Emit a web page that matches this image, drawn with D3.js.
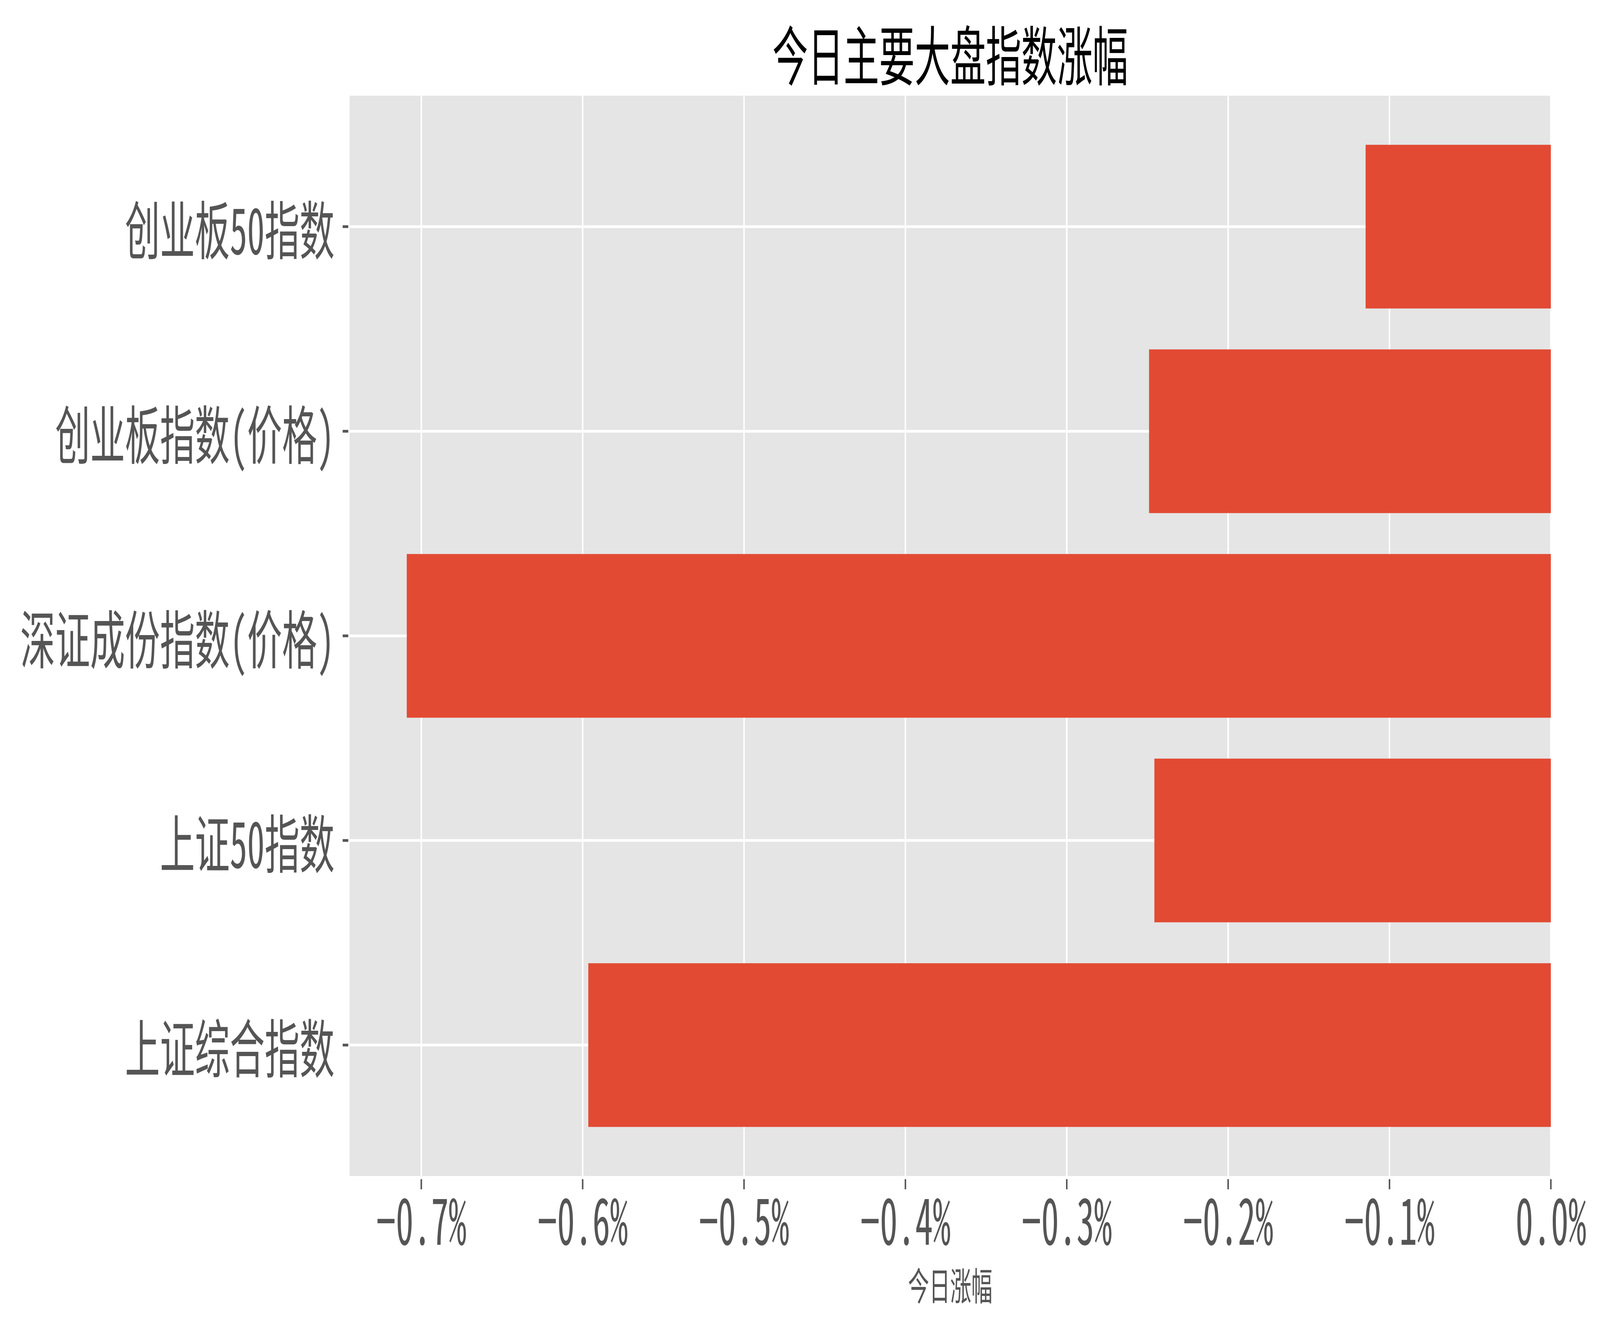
<!DOCTYPE html>
<html>
<head>
<meta charset="utf-8">
<script src="https://cdn.jsdelivr.net/npm/d3@7"></script>
<style>
  html, body { margin: 0; padding: 0; background: #fff; overflow: hidden; }
  #chart { width: 100vw; height: 100vh; }
  svg { display: block; width: 100%; height: 100%; }
  text { font-family: "Noto Sans Mono CJK SC", "Noto Sans CJK SC", sans-serif; }
</style>
</head>
<body>
<div id="chart"></div>
<script>
// index names, top to bottom
const indexNames = ["创业板50指数", "创业板指数(价格)", "深证成份指数(价格)", "上证50指数", "上证综合指数"];
// today's change in percent
const changes = [-0.1148, -0.249, -0.709, -0.2457, -0.5965];
const xTicks = [-0.7, -0.6, -0.5, -0.4, -0.3, -0.2, -0.1, 0.0];
const titleText = "今日主要大盘指数涨幅";
const xLabelText = "今日涨幅";

const W = 7424, H = 3395;
const margin = { top: 245, right: 228, bottom: 384, left: 1622 };

// draw in figure pixels, the viewBox stretches it over the whole window
const svg = d3.select("#chart").append("svg")
  .attr("viewBox", `0 0 ${W} ${H}`)
  .attr("preserveAspectRatio", "none");

const x0 = margin.left, x1 = W - margin.right;
const y0 = margin.top, y1 = H - margin.bottom;

// matplotlib-ish auto margin of 5% on the data side
const minVal = d3.min(changes);
const x = d3.scaleLinear().domain([minVal * 1.05, 0]).range([x0, x1]);
const y = d3.scaleBand().domain(indexNames).range([y0, y1])
  .paddingInner(0.2).paddingOuter(0.24);

// plot background
svg.append("rect")
  .attr("x", x0).attr("y", y0)
  .attr("width", x1 - x0).attr("height", y1 - y0)
  .attr("fill", "#E5E5E5");

// grid
svg.append("g").selectAll("line")
  .data(xTicks).enter().append("line")
  .attr("x1", d => x(d)).attr("x2", d => x(d))
  .attr("y1", y0).attr("y2", y1)
  .attr("stroke", "#fff").attr("stroke-width", 7);

svg.append("g").selectAll("line")
  .data(indexNames).enter().append("line")
  .attr("x1", x0).attr("x2", x1)
  .attr("y1", d => y(d) + y.bandwidth() / 2).attr("y2", d => y(d) + y.bandwidth() / 2)
  .attr("stroke", "#fff").attr("stroke-width", 7);

// bars
svg.append("g").selectAll("rect")
  .data(indexNames).enter().append("rect")
  .attr("x", (d, i) => x(changes[i]))
  .attr("y", d => y(d))
  .attr("width", (d, i) => x(0) - x(changes[i]))
  .attr("height", y.bandwidth())
  .attr("fill", "#E24A33");

// x axis ticks + labels
const xa = svg.append("g");
xa.selectAll("line")
  .data(xTicks).enter().append("line")
  .attr("x1", d => x(d)).attr("x2", d => x(d))
  .attr("y1", y1 + 8).attr("y2", y1 + 34)
  .attr("stroke", "#555").attr("stroke-width", 7);
xa.selectAll("text")
  .data(xTicks).enter().append("text")
  .attr("x", d => x(d)).attr("y", 3187)
  .attr("text-anchor", "middle")
  .attr("font-size", 164)
  .attr("fill", "#555")
  .text(d => (d < 0 ? "\u2212" : "") + Math.abs(d).toFixed(1) + "%");

// y axis ticks + labels
const ya = svg.append("g");
ya.selectAll("line")
  .data(indexNames).enter().append("line")
  .attr("x1", x0 - 32).attr("x2", x0 - 6)
  .attr("y1", d => y(d) + y.bandwidth() / 2).attr("y2", d => y(d) + y.bandwidth() / 2)
  .attr("stroke", "#555").attr("stroke-width", 7);
ya.selectAll("text")
  .data(indexNames).enter().append("text")
  .attr("x", 1552).attr("y", d => y(d) + y.bandwidth() / 2)
  .attr("text-anchor", "end")
  .attr("dominant-baseline", "central")
  .attr("font-size", 162)
  .attr("fill", "#555")
  .text(d => d);

// title and axis label
svg.append("text")
  .attr("x", (x0 + x1) / 2).attr("y", 133)
  .attr("text-anchor", "middle").attr("dominant-baseline", "central")
  .attr("font-size", 165).attr("fill", "#000")
  .text(titleText);

svg.append("text")
  .attr("x", (x0 + x1) / 2).attr("y", 3286)
  .attr("text-anchor", "middle").attr("dominant-baseline", "central")
  .attr("font-size", 98).attr("fill", "#555")
  .text(xLabelText);
</script>
</body>
</html>
